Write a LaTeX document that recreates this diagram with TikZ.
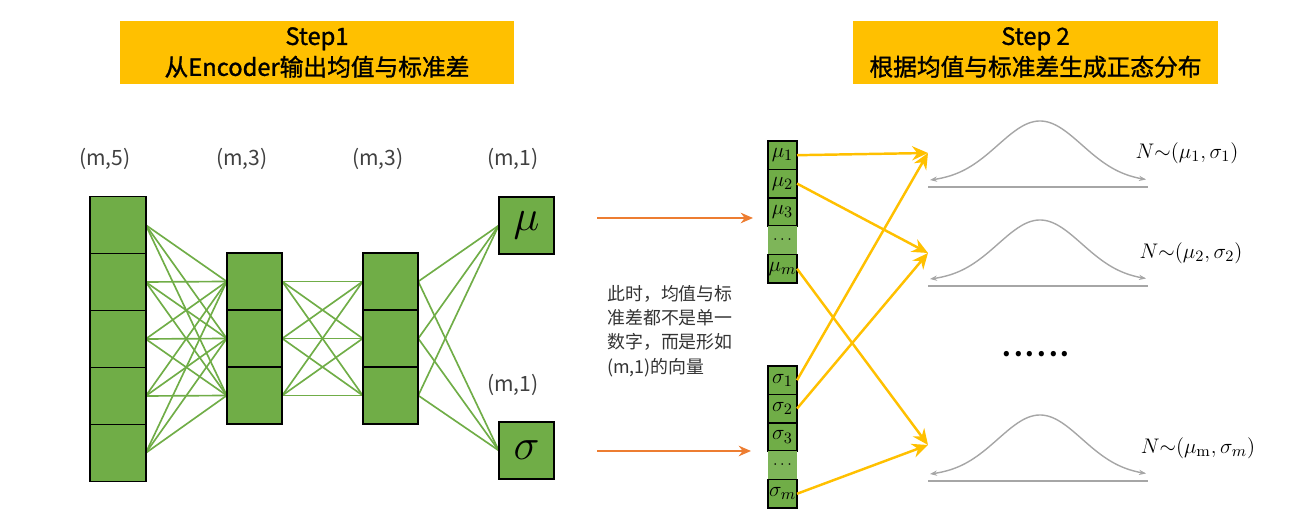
\documentclass[tikz,border=0pt]{standalone}
\usepackage[no-math]{fontspec}
\setmainfont{Noto Sans CJK SC}
\usetikzlibrary{arrows.meta, positioning, calc, backgrounds}
\definecolor{bannerGold}{HTML}{FFC000}
\definecolor{layerGreen}{HTML}{70AD47}
\definecolor{arrowOrange}{HTML}{ED7D31}
\definecolor{arrowGold}{HTML}{FFC000}
\definecolor{curveGray}{HTML}{A6A6A6}

\begin{document}
\begin{tikzpicture}[x=0.02cm, y=-0.02cm,
  every node/.style={text=black},
  banner/.style={fill=bannerGold, minimum height=1.26cm, align=center,
                 font=\fontsize{13.5}{17.6}\selectfont\addfontfeature{FakeBold=1.2}},
  cell/.style={draw=black, line width=1.1pt, fill=layerGreen, outer sep=0pt,
               minimum width=1.11cm, minimum height=1.14cm, inner sep=0pt},
  vcell/.style={draw=black, line width=1pt, fill=layerGreen, outer sep=0pt,
                minimum width=0.58cm, minimum height=0.568cm, inner sep=0pt,
                font=\fontsize{13}{15}\selectfont},
  gapcell/.style={vcell, draw=none, fill=layerGreen!90},
  dimlbl/.style={font=\fontsize{12}{14}\selectfont, text=black!75},
  link/.style={draw=layerGreen, line width=0.95pt},
  feed/.style={-{Stealth[length=7pt,width=6pt]}, draw=arrowOrange, line width=1.1pt},
  pick/.style={-{Stealth[length=9pt,width=8pt]}, draw=arrowGold, line width=1.4pt},
  bell/.style={draw=curveGray, line width=0.8pt},
  bellends/.style={<->, >={Stealth[length=4pt,width=3pt]}}]

  \useasboundingbox (0,0) rectangle (1313,519);

  %% ═══════════════════════════════════════════════════════════════
  %% TITLES
  %% ═══════════════════════════════════════════════════════════════

  \node[banner, minimum width=7.88cm] (step1) at (317,52.5)
      {Step1\\从Encoder输出均值与标准差};
  \node[banner, minimum width=7.3cm] (step2) at (1035.5,52.5)
      {Step 2\\根据均值与标准差生成正态分布};

  %% ═══════════════════════════════════════════════════════════════
  %% ENCODER LAYERS
  %% ═══════════════════════════════════════════════════════════════

  \foreach \i in {1,...,5}
    \node[cell] (a\i) at (118,168+57*\i) {};
  \foreach \j in {1,2,3} {
    \node[cell] (b\j) at (254.5,224.5+57*\j) {};
    \node[cell] (c\j) at (390.5,224.5+57*\j) {};
  }
  \node[cell] (mu)    at (526.5,225.5) {\fontsize{24}{26}\selectfont$\mu$};
  \node[cell] (sigma) at (526.5,450.5) {\fontsize{24}{26}\selectfont$\sigma$};

  \node[dimlbl] (dimA)  at (105,159) {(m,5)};
  \node[dimlbl] (dimB)  at (242,159) {(m,3)};
  \node[dimlbl] (dimC)  at (378,159) {(m,3)};
  \node[dimlbl] (dimMu) at (513,159) {(m,1)};
  \node[dimlbl] (dimSg) at (513,385) {(m,1)};

  \begin{scope}[on background layer]
    \foreach \i in {1,...,5}
      \foreach \j in {1,2,3}
        \draw[link] (a\i.east) -- (b\j.west);
    \foreach \i in {1,2,3}
      \foreach \j in {1,2,3}
        \draw[link] (b\i.east) -- (c\j.west);
    \foreach \i in {1,2,3} {
      \draw[link] (c\i.east) -- (mu.west);
      \draw[link] (c\i.east) -- (sigma.west);
    }
  \end{scope}

  %% ═══════════════════════════════════════════════════════════════
  %% MEAN / STD VECTORS
  %% ═══════════════════════════════════════════════════════════════

  \coordinate (muFrom) at (597,218);
  \coordinate (muTo)   at (753,218);
  \coordinate (sgFrom) at (597,451);
  \coordinate (sgTo)   at (751,451);
  \draw[feed] (muFrom) -- (muTo);
  \draw[feed] (sgFrom) -- (sgTo);

  \node[font=\fontsize{10.2}{13.8}\selectfont, text=black!80, align=left] (note) at (670,331)
      {此时，均值与标\\准差都不是单一\\数字，而是形如\\(m,1)的向量};

  \node[vcell] (mu1) at (782.5,155.2) {$\mu_1$};
  \node[vcell, below=0pt of mu1] (mu2) {$\mu_2$};
  \node[vcell, below=0pt of mu2] (mu3) {$\mu_3$};
  \node[gapcell, below=0pt of mu3] (mudots) {\fontsize{9}{9}\selectfont$\cdots$};
  \node[vcell, below=0pt of mudots] (mum) {$\mu_m$};

  \node[vcell] (sg1) at (782.5,380.2) {$\sigma_1$};
  \node[vcell, below=0pt of sg1] (sg2) {$\sigma_2$};
  \node[vcell, below=0pt of sg2] (sg3) {$\sigma_3$};
  \node[gapcell, below=0pt of sg3] (sgdots) {\fontsize{9}{9}\selectfont$\cdots$};
  \node[vcell, below=0pt of sgdots] (sgm) {$\sigma_m$};

  %% ═══════════════════════════════════════════════════════════════
  %% NORMAL DISTRIBUTIONS
  %% ═══════════════════════════════════════════════════════════════

  \coordinate (g1) at (928,153);
  \coordinate (g2) at (928,253);
  \coordinate (g3) at (928,445);

  \draw[pick] (mu1.east) -- (g1);
  \draw[pick] (mu2.east) -- (g2);
  \draw[pick] (mum.east) -- (g3);
  \draw[pick] (sg1.east) -- (g1);
  \draw[pick] (sg2.east) -- (g2);
  \draw[pick] (sgm.east) -- (g3);

  \foreach \yb in {187,286,481} {
    \begin{scope}[shift={(0,\yb)}]
      \draw[bell] (928,0) -- (1148,0);
      \draw[bell, bellends] plot[domain=-110:106, samples=80, smooth]
          ({1040+\x},{-5-61*exp(-((\x)*(\x))/3528)});
    \end{scope}
  }

  \node[font=\fontsize{13}{15}\selectfont] (n1) at (1187,153) {$N{\sim}(\mu_1,\sigma_1)$};
  \node[font=\fontsize{13}{15}\selectfont] (n2) at (1191,253) {$N{\sim}(\mu_2,\sigma_2)$};
  \node[font=\fontsize{13}{15}\selectfont] (nm) at (1198,448) {$N{\sim}(\mu_{\mathrm{m}},\sigma_m)$};

  \node[font=\fontsize{14}{14}\selectfont\bfseries\addfontfeature{LetterSpace=12}] (etc) at (1036,354) {......};

\end{tikzpicture}
\end{document}
